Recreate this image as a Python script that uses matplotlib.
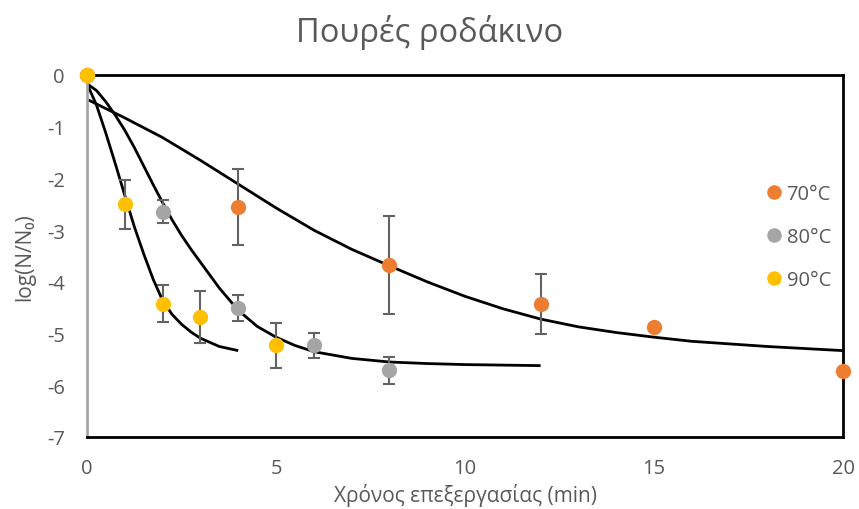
import numpy as np
import matplotlib.pyplot as plt

plt.rcParams['font.family'] = ['Open Sans', 'DejaVu Sans']
plt.rcParams['axes.unicode_minus'] = False

# measured survivors, log(N/N0), with standard deviations
t70 = [0, 4, 8, 12, 15, 20]
y70 = [0, -2.55, -3.67, -4.43, -4.87, -5.72]
e70 = [0, 0.74, 0.95, 0.58, 0.05, 0]

t80 = [0, 2, 4, 6, 8]
y80 = [0, -2.64, -4.51, -5.23, -5.71]
e80 = [0, 0.23, 0.25, 0.25, 0.26]

t90 = [0, 1, 2, 3, 5]
y90 = [0, -2.50, -4.42, -4.68, -5.23]
e90 = [0, 0.47, 0.36, 0.50, 0.44]

# fitted model curves
fit70_t = [0, 1, 2, 3, 4, 5, 6, 7, 8, 9, 10, 11, 12, 13, 14, 15, 16, 17, 18, 19, 20]
fit70_y = [-0.47, -0.83, -1.21, -1.65, -2.11, -2.57, -3.00, -3.37, -3.69, -4.00,
           -4.28, -4.52, -4.72, -4.87, -4.98, -5.07, -5.15, -5.20, -5.25, -5.29, -5.33]

fit80_t = [0, 0.25, 0.5, 0.75, 1, 1.25, 1.5, 1.75, 2, 2.25, 2.5, 2.75, 3, 3.5, 4,
           4.5, 5, 5.5, 6, 7, 8, 9, 10, 11, 12]
fit80_y = [-0.17, -0.30, -0.52, -0.78, -1.07, -1.40, -1.76, -2.12, -2.47, -2.80,
           -3.10, -3.37, -3.62, -4.12, -4.55, -4.86, -5.07, -5.23, -5.35, -5.48,
           -5.55, -5.58, -5.60, -5.61, -5.62]

fit90_t = [0, 0.25, 0.5, 0.75, 1.0, 1.25, 1.5, 1.75, 2.0, 2.25, 2.5, 2.75, 3.0,
           3.5, 4.0]
fit90_y = [-0.17, -0.58, -1.13, -1.72, -2.33, -2.93, -3.46, -3.95, -4.36, -4.63,
           -4.82, -4.97, -5.09, -5.25, -5.33]

series = [
    ('70°C', t70, y70, e70, '#ED7D31'),
    ('80°C', t80, y80, e80, '#A5A5A5'),
    ('90°C', t90, y90, e90, '#FFC000'),
]

txt = '#595959'

fig = plt.figure(figsize=(8.59, 5.10), dpi=100)
ax = fig.add_axes([0.1013, 0.1412, 0.8801, 0.7098])

for ft, fy in [(fit70_t, fit70_y), (fit80_t, fit80_y), (fit90_t, fit90_y)]:
    ax.plot(ft, fy, color='black', lw=2, zorder=2, solid_capstyle='butt')

for i, (name, t, y, e, c) in enumerate(series):
    ax.errorbar(t, y, yerr=e, fmt='none', ecolor='#636363', elinewidth=1.5,
                capsize=4.5, capthick=1.5, zorder=3 + i)
    ax.plot(t, y, 'o', color=c, ms=11, mec='none', label=name, zorder=3.5 + i,
            clip_on=False)

ax.set_xlim(0, 20)
ax.set_ylim(-7, 0)
ax.set_xticks([0, 5, 10, 15, 20])
ax.set_yticks(range(-7, 1))
ax.tick_params(length=0, labelsize=14.5, labelcolor=txt)
ax.tick_params(axis='x', pad=15)
ax.tick_params(axis='y', pad=16)

for s in ['top', 'right', 'bottom']:
    ax.spines[s].set_color('black')
    ax.spines[s].set_linewidth(2)
ax.spines['left'].set_color('#A6A6A6')
ax.spines['left'].set_linewidth(2)

ax.set_xlabel('Χρόνος επεξεργασίας (min)', fontsize=15, color=txt, labelpad=4)
ax.set_ylabel('log(N/N₀)', fontsize=15, color=txt, labelpad=8)
fig.suptitle('Πουρές ροδάκινο', fontsize=23.5, color=txt, y=0.97)

ax.legend(loc='upper right', bbox_to_anchor=(1.008, 0.75), frameon=False,
          fontsize=14.5, labelcolor=txt, handletextpad=0.0, labelspacing=1.15,
          markerscale=0.95, handlelength=1.2)

fig.savefig('out.png', dpi=100)
